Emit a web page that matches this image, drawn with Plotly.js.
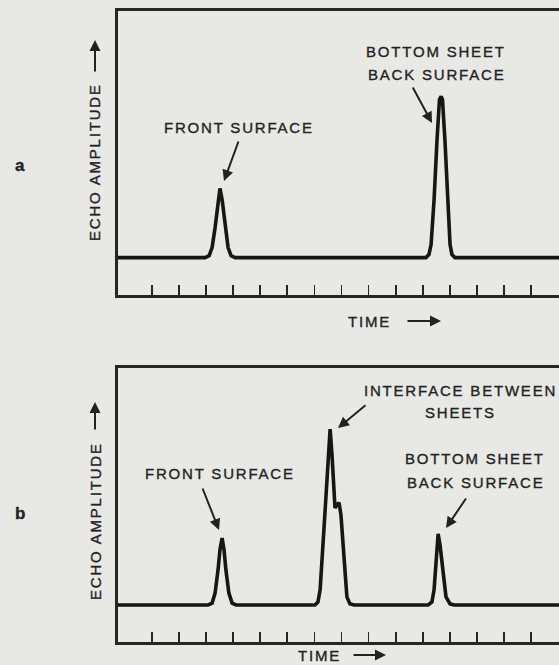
<!DOCTYPE html>
<html>
<head>
<meta charset="utf-8">
<script src="https://cdn.plot.ly/plotly-3.0.1.min.js"></script>
<style>
  html, body { margin:0; padding:0; background:#e8e8e5; overflow:hidden; }
  .annotation-text { letter-spacing: 1.8px; stroke: #262626; stroke-width: 0.35px; }
</style>
</head>
<body>
<div id="chart" style="width:559px;height:665px;"></div>
<script>
// ---- Data (time in tick units, amplitude in arbitrary units, baseline = 0) ----
const timeA = [-1.26, 1.96, 2.11, 2.22, 2.33, 2.44, 2.51, 2.59, 2.70, 2.81, 2.92, 3.07,
               10.12, 10.23, 10.31, 10.42, 10.53, 10.62, 10.68, 10.73, 10.82, 10.94, 11.01, 11.08, 11.19, 15.04];
const echoA = [0, 0, 0.05, 0.27, 0.80, 1.55, 1.85, 1.55, 0.80, 0.27, 0.05, 0,
               0, 0.08, 0.35, 1.55, 3.16, 4.23, 4.31, 4.23, 3.16, 1.55, 0.35, 0.08, 0, 0];

const timeB = [-1.26, 2.07, 2.22, 2.33, 2.44, 2.51, 2.59, 2.66, 2.73, 2.84, 2.96, 3.10,
               6.02, 6.13, 6.21, 6.28, 6.35, 6.43, 6.50, 6.58, 6.65, 6.72, 6.76, 6.83, 6.91, 6.98, 7.06, 7.13, 7.20, 7.31, 7.46,
               10.20, 10.34, 10.42, 10.49, 10.57, 10.64, 10.75, 10.86, 11.01, 11.16, 15.04];
const echoB = [0, 0, 0.05, 0.32, 0.95, 1.49, 1.81, 1.49, 0.95, 0.32, 0.05, 0,
               0, 0.08, 0.41, 1.08, 2.03, 2.97, 3.92, 4.75, 4.05, 3.11, 2.62, 2.70, 2.76, 2.43, 1.49, 0.68, 0.22, 0.03, 0,
               0, 0.08, 0.41, 1.22, 1.92, 1.62, 0.81, 0.22, 0.03, 0, 0];

const tickTimes = [0,1,2,3,4,5,6,7,8,9,10,11,12,13,14];

const panelLabels = ['a', 'b'];
const yTitle = 'ECHO AMPLITUDE';
const xTitle = 'TIME';
const labelsA = ['FRONT SURFACE', 'BOTTOM SHEET', 'BACK SURFACE'];
const labelsB = ['FRONT SURFACE', 'INTERFACE BETWEEN', 'SHEETS', 'BOTTOM SHEET', 'BACK SURFACE'];

// ---- Layout helpers (pixel -> paper) ----
const W = 559, H = 665;
const PX = v => v / W;
const PY = v => 1 - v / H;
const ink = '#222222';
const fnt = {family: '"Liberation Sans", Arial, sans-serif', size: 15, color: ink};

function txt(t, cx, cy, extra) {
  return Object.assign({text: t, xref: 'paper', yref: 'paper', x: PX(cx), y: PY(cy),
    xanchor: 'center', yanchor: 'middle', showarrow: false, font: fnt}, extra || {});
}
function arr(hx, hy, tx, ty) {
  return {text: '', xref: 'paper', yref: 'paper', x: PX(hx), y: PY(hy),
    ax: tx - hx, ay: ty - hy, axref: 'pixel', ayref: 'pixel',
    showarrow: true, arrowhead: 2, arrowsize: 1.1, arrowwidth: 2, arrowcolor: ink, standoff: 0};
}

const lineStyle = {color: '#161616', width: 3.6, shape: 'linear'};
const traces = [
  {x: timeA, y: echoA, xaxis: 'x', yaxis: 'y', mode: 'lines', line: lineStyle, hoverinfo: 'skip'},
  {x: timeB, y: echoB, xaxis: 'x2', yaxis: 'y2', mode: 'lines', line: lineStyle, hoverinfo: 'skip'}
];

function xax(anchor) {
  return {domain: [118 / W, 1], anchor: anchor, range: [-1.256, 15.035],
    showgrid: false, zeroline: false, showline: true, mirror: true, linecolor: '#262626', linewidth: 2.6,
    ticks: 'inside', ticklen: 10, tickwidth: 1.8, tickcolor: '#262626',
    tickmode: 'array', tickvals: tickTimes, showticklabels: false, fixedrange: true};
}
function yax(anchor, dom, top) {
  return {domain: dom, anchor: anchor, range: [-1, top],
    showgrid: false, zeroline: false, showline: true, mirror: false, linecolor: '#262626', linewidth: 2.6,
    ticks: '', showticklabels: false, fixedrange: true};
}

const annotations = [
  // panel a
  txt(panelLabels[0], 20, 165, {font: Object.assign({}, fnt, {size: 17, weight: 'bold'})}),
  txt(yTitle, 95, 162, {textangle: -90}),
  arr(95, 40, 95, 73),
  txt(xTitle, 369, 321),
  arr(441, 321, 406, 321),
  txt(labelsA[0], 239, 127),
  arr(224, 181, 239, 140),
  txt(labelsA[1], 436, 52),
  txt(labelsA[2], 436, 74),
  arr(432, 123, 412, 86),
  // panel b
  txt(panelLabels[1], 21, 513, {font: Object.assign({}, fnt, {size: 17, weight: 'bold'})}),
  txt(yTitle, 95, 521, {textangle: -90}),
  arr(95, 402, 95, 431),
  txt(xTitle, 319, 655),
  arr(386, 655, 352, 655),
  txt(labelsB[0], 220, 473),
  arr(219, 530, 202, 487),
  txt(labelsB[1], 460, 391),
  txt(labelsB[2], 460, 412),
  arr(338, 428, 367, 404),
  txt(labelsB[3], 475, 458),
  txt(labelsB[4], 475, 482),
  arr(446, 528, 467, 497)
];

const layout = {
  width: W, height: H,
  margin: {l: 0, r: 0, t: 0, b: 0},
  paper_bgcolor: '#e8e8e5', plot_bgcolor: '#e8e8e5',
  showlegend: false,
  xaxis: xax('y'),
  yaxis: yax('x', [1 - 295 / H, 1 - 11 / H], 6.594),
  xaxis2: xax('y2'),
  yaxis2: yax('x2', [1 - 642 / H, 1 - 368 / H], 6.4),
  annotations: annotations
};

Plotly.newPlot('chart', traces, layout, {displayModeBar: false, staticPlot: true});
</script>
</body>
</html>
